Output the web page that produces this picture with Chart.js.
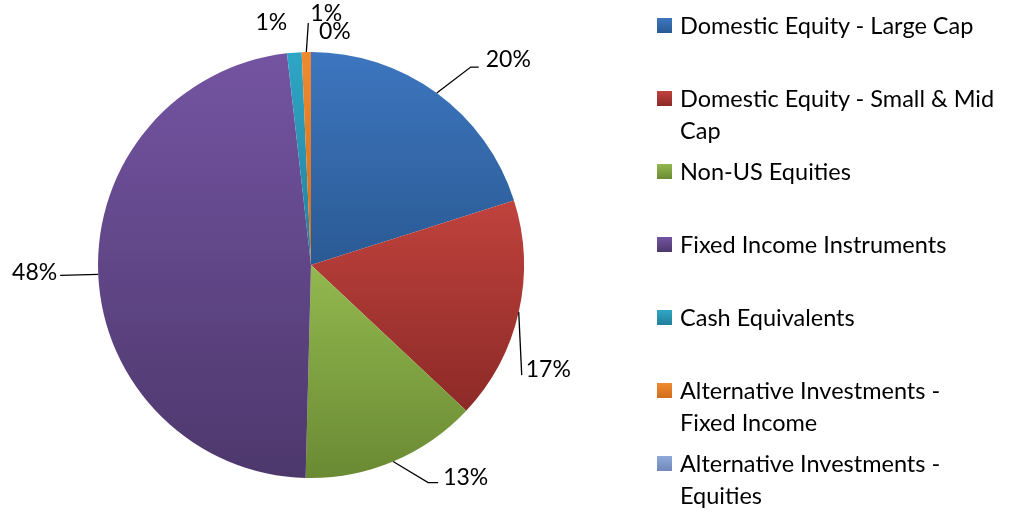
<!DOCTYPE html>
<html>
<head>
<meta charset="utf-8">
<script src="https://cdn.jsdelivr.net/npm/chart.js@4.4.0/dist/chart.umd.min.js"></script>
<style>
  html, body { margin: 0; padding: 0; background: #fff; }
  #wrap { position: relative; width: 1009px; height: 513px; overflow: hidden; }
  #wrap canvas { position: absolute; left: 0; top: 0; }
  #legend { position: absolute; left: 0; top: 0; width: 1009px; height: 513px; pointer-events: none;
    font-family: Lato, "Open Sans", sans-serif; font-size: 23.5px; color: #000; }
  .item { position: absolute; left: 657px; width: 350px; line-height: 32px; }
  .box { position: absolute; left: 0; top: 9px; width: 15px; height: 15px; }
  .txt { position: absolute; left: 23px; top: 0; width: 318px; }
</style>
</head>
<body>
<div id="wrap">
  <canvas id="pieChart" width="1009" height="513"></canvas>
  <div id="legend"></div>
</div>
<script>
const categories = [
  'Domestic Equity - Large Cap',
  'Domestic Equity - Small & Mid Cap',
  'Non-US Equities',
  'Fixed Income Instruments',
  'Cash Equivalents',
  'Alternative Investments - Fixed Income',
  'Alternative Investments - Equities'
];
const allocation = [20.1, 16.9, 13.4, 47.8, 1.1, 0.7, 0.0];

// light / dark ends of each slice's gradient
const lightColors = ['#3d76bf', '#c0423d', '#93b84f', '#7454a2', '#2fa6c6', '#f08a30', '#8fa9da'];
const darkColors = ['#2a5a94', '#8c2a27', '#6a8a33', '#4d386c', '#237f9a', '#d06d1c', '#6f88b8'];

// label leader settings, offsets from the slice's outer edge midpoint
const leaders = [
  { pts: [[34, -26], [42, -26]], tx: 49, ty: -33, align: 'left' },
  { pts: [[3, 63]], tx: 7, ty: 57, align: 'left' },
  { pts: [[35, 21], [45, 21]], tx: 50, ty: 16, align: 'left' },
  { pts: [[-38, 1]], tx: -41, ty: -2, align: 'right' },
  { pts: [], tx: -23, ty: -30, align: 'center' },
  { pts: [[2, -29]], tx: 4, ty: -38, align: 'left' },
  { pts: [], tx: 8, ty: -20, align: 'left' }
];

const total = allocation.reduce((s, v) => s + v, 0);

const sliceFill = (context) => {
  const i = context.dataIndex;
  const area = context.chart.chartArea;
  if (!area) return lightColors[i];
  const cx = (area.left + area.right) / 2;
  const cy = (area.top + area.bottom) / 2;
  const r = Math.min(area.right - area.left, area.bottom - area.top) / 2;
  const before = allocation.slice(0, i).reduce((s, v) => s + v, 0);
  const a0 = before / total * Math.PI * 2 - Math.PI / 2;
  const a1 = (before + allocation[i]) / total * Math.PI * 2 - Math.PI / 2;
  let yMin = cy, yMax = cy;
  for (let k = 0; k <= 40; k++) {
    const y = cy + r * Math.sin(a0 + (a1 - a0) * k / 40);
    yMin = Math.min(yMin, y);
    yMax = Math.max(yMax, y);
  }
  if (yMax - yMin < 1) yMax = yMin + 1;
  const g = context.chart.ctx.createLinearGradient(0, yMin, 0, yMax);
  g.addColorStop(0, lightColors[i]);
  g.addColorStop(1, darkColors[i]);
  return g;
};

const pieLabels = {
  id: 'pieLabels',
  afterDatasetsDraw(chart) {
    const ctx = chart.ctx;
    const meta = chart.getDatasetMeta(0);
    ctx.save();
    ctx.font = '23px Lato, "Open Sans", sans-serif';
    ctx.fillStyle = '#000';
    ctx.strokeStyle = '#000';
    ctx.lineWidth = 1.3;
    ctx.textBaseline = 'middle';
    meta.data.forEach((arc, i) => {
      const p = arc.getProps(['x', 'y', 'startAngle', 'endAngle', 'outerRadius'], true);
      const mid = (p.startAngle + p.endAngle) / 2;
      const ex = p.x + p.outerRadius * Math.cos(mid);
      const ey = p.y + p.outerRadius * Math.sin(mid);
      const cfg = leaders[i];
      if (cfg.pts.length) {
        ctx.beginPath();
        ctx.moveTo(ex, ey);
        cfg.pts.forEach(([dx, dy]) => ctx.lineTo(ex + dx, ey + dy));
        ctx.stroke();
      }
      ctx.textAlign = cfg.align;
      const pct = Math.round(allocation[i] / total * 100) + '%';
      ctx.fillText(pct, ex + cfg.tx, ey + cfg.ty);
    });
    ctx.restore();
  }
};

new Chart(document.getElementById('pieChart'), {
  type: 'pie',
  data: {
    labels: categories,
    datasets: [{
      data: allocation,
      backgroundColor: sliceFill,
      borderWidth: 0
    }]
  },
  options: {
    responsive: false,
    animation: false,
    layout: { padding: { left: 98, right: 485, top: 52, bottom: 35 } },
    plugins: {
      legend: { display: false },
      tooltip: { enabled: false }
    }
  },
  plugins: [pieLabels]
});

// legend drawn as html so long names can wrap like the original
const legendEl = document.getElementById('legend');
categories.forEach((name, i) => {
  const item = document.createElement('div');
  item.className = 'item';
  item.style.top = (9 + i * 73) + 'px';
  item.innerHTML = '<div class="box" style="background:linear-gradient(' + lightColors[i] + ',' + darkColors[i] + ')"></div>' +
    '<div class="txt">' + name + '</div>';
  legendEl.appendChild(item);
});
</script>
</body>
</html>
